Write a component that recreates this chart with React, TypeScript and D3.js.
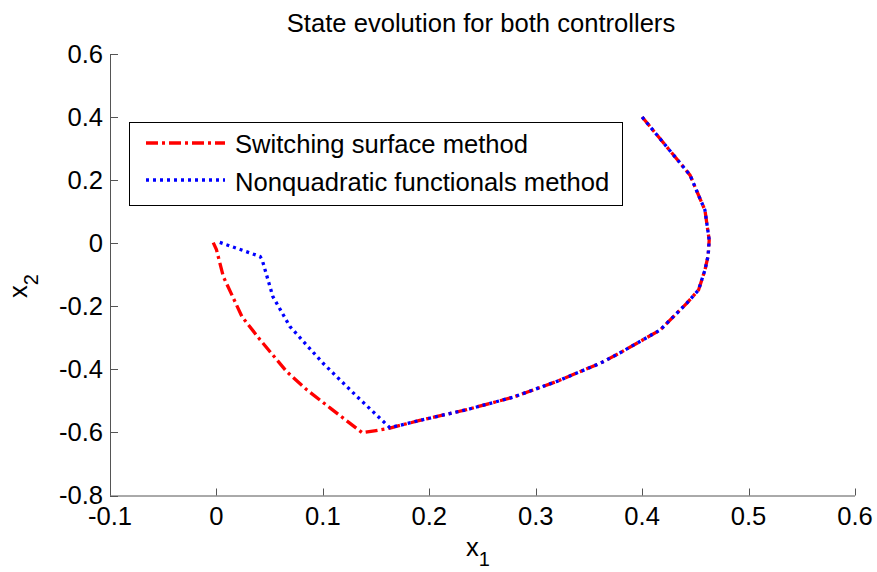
import React from "react";
import * as d3 from "d3";

const W = 877;
const H = 572;

const titleText = "State evolution for both controllers";
const xTicks = [-0.1, 0, 0.1, 0.2, 0.3, 0.4, 0.5, 0.6];
const yTicks = [-0.8, -0.6, -0.4, -0.2, 0, 0.2, 0.4, 0.6];
const seriesNames = ["Switching surface method", "Nonquadratic functionals method"];

// Switching surface method trajectory
const switchingX = [0.4, 0.436, 0.445, 0.452, 0.459, 0.463, 0.462, 0.459, 0.453, 0.442, 0.417, 0.379, 0.361, 0.32, 0.279, 0.235, 0.191, 0.163, 0.15, 0.137, 0.107, 0.085, 0.066, 0.041, 0.024, 0.0065, 0.0, -0.003];
const switchingY = [0.4, 0.253, 0.216, 0.16, 0.105, 0.01, -0.04, -0.085, -0.148, -0.19, -0.275, -0.348, -0.38, -0.438, -0.488, -0.528, -0.562, -0.586, -0.594, -0.601, -0.523, -0.465, -0.407, -0.306, -0.233, -0.106, -0.02, 0.002];

// Nonquadratic functionals method trajectory
const nonquadX = [0.4, 0.436, 0.445, 0.452, 0.459, 0.463, 0.462, 0.459, 0.453, 0.442, 0.417, 0.379, 0.361, 0.32, 0.279, 0.235, 0.191, 0.163, 0.132, 0.1, 0.069, 0.053, 0.043, 0.041, 0.002];
const nonquadY = [0.4, 0.253, 0.216, 0.16, 0.105, 0.01, -0.04, -0.085, -0.148, -0.19, -0.275, -0.348, -0.38, -0.438, -0.488, -0.528, -0.562, -0.585, -0.486, -0.38, -0.264, -0.169, -0.053, -0.042, 0.004];

const FONT = "'Liberation Sans', Arial, Helvetica, sans-serif";
const FS = 25.6;

export default function App() {
  const left = 110;
  const right = 855;
  const top = 54;
  const bottom = 495.5;

  const x = d3.scaleLinear().domain([-0.1, 0.6]).range([left, right]);
  const y = d3.scaleLinear().domain([-0.8, 0.6]).range([bottom, top]);

  const line = d3
    .line<[number, number]>()
    .x((d) => x(d[0]))
    .y((d) => y(d[1]));

  const redPts: [number, number][] = switchingX.map((v, i) => [v, switchingY[i]]);
  const bluePts: [number, number][] = nonquadX.map((v, i) => [v, nonquadY[i]]);

  const fmt = (v: number) => {
    const s = d3.format(".1f")(v).replace("−", "-");
    return s === "0.0" || s === "-0.0" ? "0" : s;
  };

  const redDash = "12 4 3 4";
  const blueDash = "3 4";

  return (
    <svg
      width={W}
      height={H}
      style={{ position: "absolute", left: 0, top: 0, background: "#fff" }}
      fontFamily={FONT}
    >
      <rect x={0} y={0} width={W} height={H} fill="#fff" />
      {/* title */}
      <text x={481} y={32} textAnchor="middle" fontSize={FS} fill="#000">
        {titleText}
      </text>

      {/* data */}
      <path d={line(redPts) || ""} fill="none" stroke="#ff0000" strokeWidth={3.3} strokeDasharray={redDash} />
      <path d={line(bluePts) || ""} fill="none" stroke="#0000ff" strokeWidth={3.3} strokeDasharray={blueDash} />

      {/* axes */}
      <line x1={left + 0.5} y1={top} x2={left + 0.5} y2={bottom} stroke="#555" strokeWidth={1} />
      <line x1={left} y1={bottom + 0.5} x2={right} y2={bottom + 0.5} stroke="#555" strokeWidth={1} />
      {yTicks.map((t) => (
        <g key={"y" + t}>
          <line x1={left} x2={left + 8} y1={Math.round(y(t)) + 0.5} y2={Math.round(y(t)) + 0.5} stroke="#555" />
          <text x={left - 7} y={y(t) + 8.5} textAnchor="end" fontSize={FS} fill="#000">
            {fmt(t)}
          </text>
        </g>
      ))}
      {xTicks.map((t) => (
        <g key={"x" + t}>
          <line x1={Math.round(x(t)) + 0.5} x2={Math.round(x(t)) + 0.5} y1={bottom} y2={bottom - 7} stroke="#555" />
          <text x={x(t)} y={bottom + 29.5} textAnchor="middle" fontSize={FS} fill="#000">
            {fmt(t)}
          </text>
        </g>
      ))}

      {/* axis labels */}
      <text x={466} y={556} fontSize={FS} fill="#000">
        x<tspan fontSize={20} dy={10}>1</tspan>
      </text>
      <text transform="translate(27,298) rotate(-90)" fontSize={FS} fill="#000">
        x<tspan fontSize={20} dy={11}>2</tspan>
      </text>

      {/* legend */}
      <rect x={129.5} y={122.5} width={493} height={83} fill="#fff" stroke="#000" strokeWidth={1} />
      <line x1={146} x2={225} y1={143} y2={143} stroke="#ff0000" strokeWidth={3.3} strokeDasharray={redDash} />
      <text x={235} y={153} fontSize={FS} fill="#000">
        {seriesNames[0]}
      </text>
      <line x1={146} x2={225} y1={180} y2={180} stroke="#0000ff" strokeWidth={3.3} strokeDasharray={blueDash} />
      <text x={235} y={191} fontSize={FS} fill="#000">
        {seriesNames[1]}
      </text>
    </svg>
  );
}
